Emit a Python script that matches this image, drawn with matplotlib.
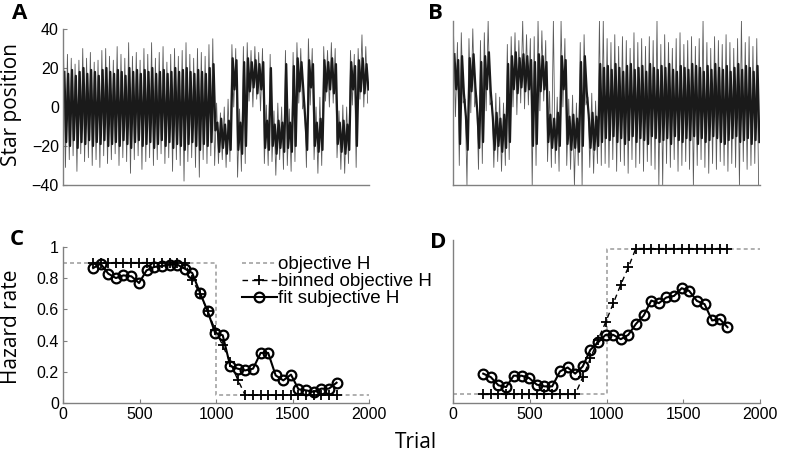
import numpy as np
import matplotlib
matplotlib.use("Agg")
import matplotlib.pyplot as plt

# ---------------------------------------------------
# Datos
# ---------------------------------------------------
# Paneles A/B: envolvente de la traza por ventanas de 25 ensayos
# (pico superior, borde superior del nucleo, borde inferior del nucleo, pico inferior)
win = 25

A_spike_hi = [26, 27, 25, 22, 24, 30, 25, 28, 23, 24, 29, 30, 26, 24, 31, 27, 25, 33, 26, 28,
              24, 30, 27, 33, 25, 28, 31, 23, 27, 30, 26, 29, 33, 27, 25, 30, 28, 26, 32, 35,
              2, -3, 0, 4, 32, 30, -1, 31, 33, 29, 31, 28, 30, 1, 27, -2, 2, 0, 29, -1,
              28, 33, 30, 3, 35, 30, 0, 5, 31, 29, 33, 30, -2, 1, 0, 29, 27, 30, 37, 31]
A_core_hi = [18, 17, 19, 16, 18, 20, 17, 19, 18, 16, 19, 20, 18, 17, 19, 18, 16, 20, 18, 19,
             17, 19, 18, 20, 17, 18, 19, 17, 18, 20, 18, 19, 20, 18, 17, 19, 18, 17, 20, 22,
             -8, -6, -9, -7, 25, 24, -8, 23, 25, 23, 24, 22, 23, -7, 20, -9, -7, -8, 22, -8,
             21, 25, 23, -7, 24, 22, -8, -6, 24, 23, 25, 22, -8, -7, -9, 23, 21, 24, 25, 22]
A_core_lo = [-18, -20, -17, -21, -18, -19, -17, -20, -18, -19, -17, -20, -19, -18, -20, -17, -19, -21, -18, -17,
             -20, -19, -18, -21, -19, -17, -20, -18, -21, -19, -20, -22, -19, -18, -20, -22, -19, -20, -18, -12,
             -23, -21, -24, -22, 9, -22, -24, -20, 8, 10, 7, 9, -21, -22, -20, -24, -21, -23, -21, -23,
             -20, 8, 9, -22, 10, -20, -23, -22, 8, 9, 7, -19, -23, -24, -22, 9, -20, 8, 7, 9]
A_spike_lo = [-31, -27, -25, -33, -24, -28, -26, -30, -27, -31, -25, -29, -27, -24, -30, -26, -28, -34, -27, -25,
              -32, -28, -26, -30, -27, -24, -29, -26, -33, -27, -30, -38, -28, -26, -31, -36, -27, -29, -25, -30,
              -29, -27, -31, -28, 0, -36, -33, -29, 3, 0, 4, -2, -29, -30, -28, -35, -27, -32, -30, -33,
              -28, 2, -1, -31, 1, -27, -34, -30, 3, 0, 2, -26, -32, -34, -29, 1, -31, 4, 0, 2]

B_spike_hi = [36, 33, 38, 4, 35, 40, 6, 34, 38, 44, 3, 7, 5, 2, 32, 36, 38, 34, 44, 37,
              35, 36, 44, 39, 34, 8, 44, 5, 44, 35, 4, 6, 2, 33, 37, 5, 7, 3, 44, 44,
              35, 33, 37, 31, 36, 34, 30, 38, 33, 35, 31, 36, 34, 44, 32, 37, 33, 30, 35, 38,
              32, 34, 36, 31, 35, 44, 33, 30, 36, 34, 32, 37, 33, 30, 35, 44, 33, 36, 31, 35]
B_core_hi = [27, 24, 26, -5, 25, 27, -3, 23, 26, 28, -5, -3, -6, -4, 22, 26, 28, 25, 27, 26,
             24, 23, 27, 26, 23, -4, -6, -3, 26, 24, -5, -4, -6, 23, 26, -4, -3, -5, 22, 20,
             21, 19, 22, 20, 18, 21, 22, 19, 20, 21, 18, 22, 20, 19, 21, 20, 22, 19, 18, 21,
             20, 19, 22, 21, 20, 18, 21, 19, 22, 20, 19, 21, 18, 20, 22, 19, 21, 20, 18, 21]
B_core_lo = [9, -19, 7, -22, 8, 10, -21, -18, 9, 8, -22, -20, -23, -21, -18, 9, 7, 10, 8, 9,
             -20, -19, 8, 9, -18, -21, -22, -20, 9, -19, -22, -21, -23, -20, 8, -21, -22, -20, -18, -16,
             -17, -15, -18, -16, -19, -17, -15, -18, -16, -17, -19, -15, -16, -18, -17, -16, -19, -15, -17, -18,
             -16, -17, -15, -19, -16, -18, -17, -15, -16, -18, -19, -17, -16, -15, -18, -17, -16, -19, -17, -18]
B_spike_lo = [-5, -30, 2, -40, -3, 0, -32, -29, -2, 1, -31, -28, -33, -30, -27, 0, -4, 2, -1, 1,
              -40, -30, -2, 3, -28, -31, -29, -33, 0, -30, -32, -40, -30, -40, 1, -31, -34, -29, -30, -29,
              -31, -27, -33, -28, -30, -34, -27, -31, -29, -33, -28, -30, -32, -40, -40, -29, -31, -27, -33, -30,
              -28, -32, -40, -30, -27, -31, -34, -29, -32, -28, -30, -33, -29, -31, -40, -28, -32, -30, -29, -40]

# Paneles C/D: tasa de riesgo por bin
bins = [197, 246, 296, 346, 395, 447, 497, 546, 596, 646, 697, 747, 796, 845, 895, 945, 994,
        1044, 1093, 1142, 1191, 1242, 1292, 1341, 1390, 1440, 1490, 1539, 1589, 1639, 1688, 1738, 1788]

C_fit = [0.865, 0.893, 0.829, 0.801, 0.818, 0.812, 0.769, 0.850, 0.872, 0.878, 0.887, 0.887, 0.861,
         0.833, 0.707, 0.590, 0.449, 0.434, 0.237, 0.220, 0.209, 0.220, 0.321, 0.321, 0.177, 0.145,
         0.182, 0.088, 0.081, 0.071, 0.092, 0.092, 0.130]
C_binned = [0.9, 0.9, 0.9, 0.9, 0.9, 0.9, 0.9, 0.9, 0.9, 0.9, 0.9, 0.9, 0.9,
            0.79, 0.70, 0.59, 0.47, 0.37, 0.26, 0.15,
            0.05, 0.05, 0.05, 0.05, 0.05, 0.05, 0.05, 0.05, 0.05, 0.05, 0.05, 0.05, 0.05]
C_obj_x = [0, 1000, 1000, 2000]
C_obj_y = [0.9, 0.9, 0.05, 0.05]

D_fit = [0.171, 0.151, 0.103, 0.093, 0.159, 0.159, 0.145, 0.107, 0.097, 0.097, 0.184, 0.207, 0.171,
         0.213, 0.310, 0.353, 0.397, 0.397, 0.372, 0.397, 0.460, 0.510, 0.597, 0.582, 0.615, 0.624,
         0.669, 0.653, 0.595, 0.576, 0.481, 0.489, 0.442]
D_binned = [0.05, 0.05, 0.05, 0.05, 0.05, 0.05, 0.05, 0.05, 0.05, 0.05, 0.05, 0.05, 0.05,
            0.15, 0.26, 0.37, 0.47, 0.58, 0.69, 0.79,
            0.9, 0.9, 0.9, 0.9, 0.9, 0.9, 0.9, 0.9, 0.9, 0.9, 0.9, 0.9, 0.9]
D_obj_x = [0, 1000, 1000, 2000]
D_obj_y = [0.05, 0.05, 0.9, 0.9]

xticks = [0, 500, 1000, 1500, 2000]
yticks_C = [0, 0.2, 0.4, 0.6, 0.8, 1]
yticks_C_lab = ["0", "0.2", "0.4", "0.6", "0.8", "1"]

# ---------------------------------------------------
# Estilo
# ---------------------------------------------------
plt.rcParams["font.family"] = ["Liberation Sans", "DejaVu Sans"]
label_font = ["Open Sans", "DejaVu Sans"]
spine_col = "#808080"

W, H = 785, 458
fig = plt.figure(figsize=(W / 100, H / 100), dpi=100)


def box(l, t, r, b):
    return [l / W, 1 - b / H, (r - l) / W, (b - t) / H]


axA = fig.add_axes(box(63, 29, 369, 185))
axB = fig.add_axes(box(453, 21, 760, 185))
axC = fig.add_axes(box(63, 247, 369, 403))
axD = fig.add_axes(box(453, 240, 760, 403))

for ax in (axA, axB, axC, axD):
    for s in ("top", "right"):
        ax.spines[s].set_visible(False)
    for s in ("left", "bottom"):
        ax.spines[s].set_color(spine_col)
        ax.spines[s].set_linewidth(1.0)
    ax.tick_params(direction="in", length=3, color=spine_col, labelsize=11.5, pad=3)
    ax.set_xlim(0, 2000)


# ---------------------------------------------------
# A y B: trazas de posicion (zigzag por las envolventes)
# ---------------------------------------------------
def trace(ax, s_hi, c_hi, c_lo, s_lo):
    t = np.arange(len(s_hi)) * win
    xs = np.column_stack([t + 4, t + 16]).ravel()
    ys = np.column_stack([s_hi, s_lo]).ravel()
    ax.plot(xs, ys, color="#5a5a5a", lw=0.6)
    xc = np.column_stack([t + 9, t + 21]).ravel()
    yc = np.column_stack([c_hi, c_lo]).ravel()
    ax.plot(xc, yc, color="#1a1a1a", lw=1.6)


trace(axA, A_spike_hi, A_core_hi, A_core_lo, A_spike_lo)
axA.set_ylim(-40, 40)
axA.set_yticks([-40, -20, 0, 20, 40])
axA.set_xticks([])

trace(axB, B_spike_hi, B_core_hi, B_core_lo, B_spike_lo)
axB.set_ylim(-40, 44)
axB.set_xticks([])
axB.set_yticks([])

# ---------------------------------------------------
# C y D: tasas de riesgo
# ---------------------------------------------------
obj_kw = dict(color="#9a9a9a", lw=1.1, dashes=(2.6, 2.0))
bin_kw = dict(color="black", lw=1.0, dashes=(4, 3), marker="+", ms=7, mew=1.3)
fit_kw = dict(color="black", lw=1.5, marker="o", ms=7, mew=1.6, mfc="none")

axC.plot(C_obj_x, C_obj_y, label="objective H", **obj_kw)
axC.plot(bins, C_binned, label="binned objective H", **bin_kw)
axC.plot(bins, C_fit, label="fit subjective H", **fit_kw)
axC.set_ylim(0, 1)
axC.set_yticks(yticks_C)
axC.set_yticklabels(yticks_C_lab)
axC.set_xticks(xticks)

axD.plot(D_obj_x, D_obj_y, **obj_kw)
axD.plot(bins, D_binned, **bin_kw)
axD.plot(bins, D_fit, **fit_kw)
axD.set_ylim(0, 0.95)
axD.set_yticks([])
axD.set_xticks(xticks)

axC.legend(loc="upper left", bbox_to_anchor=(242 / W, 1 - 256 / H),
           bbox_transform=fig.transFigure, frameon=False, fontsize=13.5,
           borderpad=0, borderaxespad=0, handlelength=1.85, handletextpad=0.06,
           labelspacing=0.0, numpoints=1)

# ---------------------------------------------------
# Textos
# ---------------------------------------------------
fig.text(12 / W, 1 - 104 / H, "Star position", rotation=90, ha="center", va="center",
         fontsize=15, family=label_font)
fig.text(12 / W, 1 - 327 / H, "Hazard rate", rotation=90, ha="center", va="center",
         fontsize=15, family=label_font)
fig.text(416 / W, 1 - 442 / H, "Trial", ha="center", va="center",
         fontsize=15, family=label_font)

for lab, x, y in (("A", 12, 3), ("B", 428, 3), ("C", 10, 229), ("D", 430, 232)):
    fig.text(x / W, 1 - y / H, lab, ha="left", va="top", fontsize=16,
             fontweight="bold", family=label_font)

fig.savefig("out.png", dpi=100)
